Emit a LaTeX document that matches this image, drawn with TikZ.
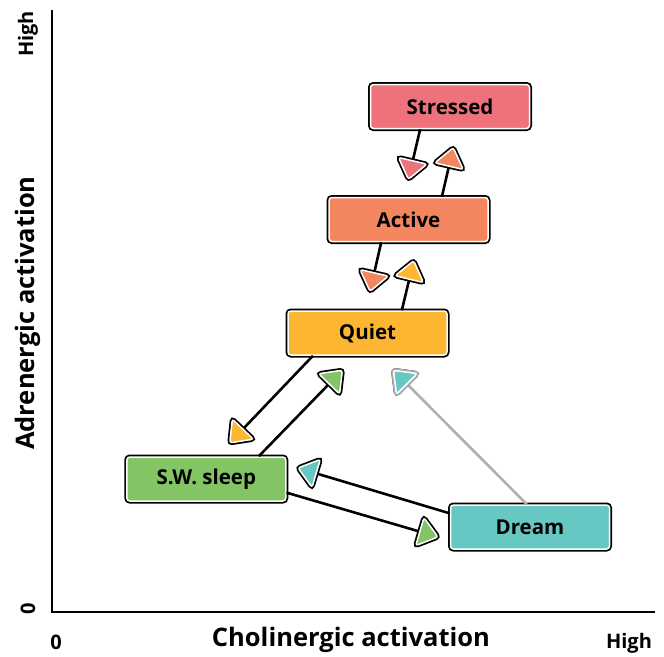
\documentclass[tikz,border=0pt]{standalone}
\usepackage{fontspec}
\setmainfont{Open Sans}
\usetikzlibrary{shapes.geometric,calc}
\definecolor{cStress}{RGB}{238,114,124}
\definecolor{cActive}{RGB}{243,134,94}
\definecolor{cQuiet}{RGB}{252,182,50}
\definecolor{cSW}{RGB}{131,196,101}
\definecolor{cDream}{RGB}{102,199,195}
\definecolor{cGray}{RGB}{175,175,175}
\tikzset{
  statebox/.style={rectangle, rounded corners=3pt, minimum width=159pt, minimum height=44pt,
    fill=#1, draw=white, line width=1.5pt, preaction={draw=black, line width=5pt},
    font=\bfseries\fontsize{20.5}{24}\selectfont},
  tiptri/.style={isosceles triangle, isosceles triangle apex angle=75, minimum height=19pt,
    inner sep=0pt, rounded corners=2.5pt, fill=#1, draw=white, line width=1.5pt,
    preaction={draw=black, line width=5pt}, sloped, allow upside down, pos=1, anchor=lower side},
  graytri/.style={tiptri=#1, preaction={draw=cGray, line width=5pt}},
  link/.style={line width=2.6pt, draw=black},
  graylink/.style={line width=2.6pt, draw=cGray},
  axisline/.style={line width=2.2pt, draw=black},
  smalllab/.style={font=\bfseries\fontsize{20}{22}\selectfont, inner sep=0pt},
  biglab/.style={font=\bfseries\fontsize{25.5}{28}\selectfont, inner sep=0pt},
}
\begin{document}
\begin{tikzpicture}[x=1pt, y=-1pt]
\useasboundingbox (0,0) rectangle (664,656);
% axes
\coordinate (ytop) at (52,10);
\coordinate (origin) at (52,612);
\coordinate (xend) at (655,612);
\draw[axisline] (ytop) -- (origin) -- (xend);
\node[smalllab, rotate=90] (yhigh) at (28,34) {High};
\node[smalllab, rotate=90] (yzero) at (28,609) {0};
\node[biglab, rotate=90] (ylab) at (28,313) {Adrenergic activation};
\node[smalllab] (xzero) at (56,642) {0};
\node[biglab] (xlab) at (351,640) {Cholinergic activation};
\node[smalllab] (xhigh) at (629,643) {High};
% states
\node[statebox=cStress] (stressed) at (450,106.5) {Stressed};
\node[statebox=cActive] (active) at (408.5,219.5) {Active};
\node[statebox=cQuiet] (quiet) at (367.5,333) {Quiet};
\node[statebox=cSW] (sw) at (206.3,479) {S.W. sleep};
\node[statebox=cDream] (dream) at (530,527) {Dream};
% end points
\coordinate (eSA) at (412.9,160.1);
\coordinate (eAS) at (448.8,166.9);
\coordinate (eAQ) at (374.4,272.1);
\coordinate (eQA) at (409.1,279.9);
\coordinate (eQW) at (243.4,428.6);
\coordinate (eWQ) at (328.6,384.4);
\coordinate (eDQ) at (407.4,384.4);
\coordinate (eDW) at (316.9,473.6);
\coordinate (eWD) at (419.1,531.4);
% connectors
\draw[link] ($(stressed.south west)!0.314!(stressed.south east)$) -- node[tiptri=cStress]{} (eSA);
\draw[link] ($(active.north west)!0.708!(active.north east)$) -- node[tiptri=cActive]{} (eAS);
\draw[link] ($(active.south west)!0.33!(active.south east)$) -- node[tiptri=cActive]{} (eAQ);
\draw[link] ($(quiet.north west)!0.714!(quiet.north east)$) -- node[tiptri=cQuiet]{} (eQA);
\draw[link] ($(quiet.south west)!0.16!(quiet.south east)$) -- node[tiptri=cQuiet]{} (eQW);
\draw[link] ($(sw.north west)!0.827!(sw.north east)$) -- node[tiptri=cSW]{} (eWQ);
\draw[graylink] ($(dream.north west)!0.48!(dream.north east)$) -- node[graytri=cDream]{} (eDQ);
\draw[link] ($(dream.north west)!0.2!(dream.south west)$) -- node[tiptri=cDream]{} (eDW);
\draw[link] ($(sw.north east)!0.8!(sw.south east)$) -- node[tiptri=cSW]{} (eWD);
\end{tikzpicture}
\end{document}
